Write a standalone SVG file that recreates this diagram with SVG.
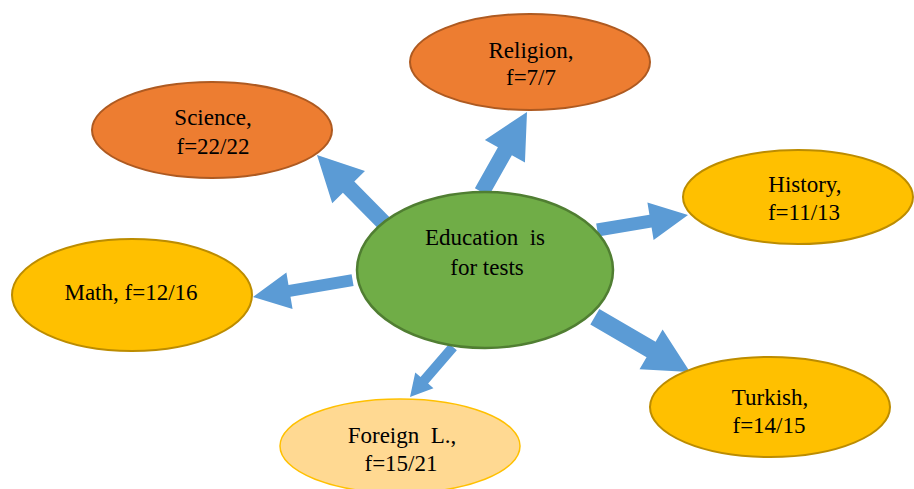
<svg xmlns="http://www.w3.org/2000/svg" width="914" height="489" viewBox="0 0 914 489">
<style>
text{font-family:"Liberation Serif","Times New Roman",serif;font-size:23px;fill:#000;text-anchor:middle;white-space:pre}
.or{fill:#ED7D31;stroke:#AE5A21;stroke-width:2}
.gd{fill:#FFC000;stroke:#BC8C00;stroke-width:2}
.lt{fill:#FFD992;stroke:#FFC000;stroke-width:1.5}
.gr{fill:#70AD47;stroke:#507E32;stroke-width:2.5}
.ar{fill:#5B9BD5}
</style>
<rect width="914" height="489" fill="#fff"/>
<g id="connectors">
<polygon class="ar" transform="translate(317,155) rotate(-134.6)" points="0,0 -45,-23 -45,-8 -97,-8 -97,8 -45,8 -45,23"/>
<polygon class="ar" transform="translate(527,112) rotate(-60.6)" points="0,0 -45,-23 -45,-8 -92,-8 -92,8 -45,8 -45,23"/>
<polygon class="ar" transform="translate(253,297) rotate(170.4)" points="0,0 -37,-18.5 -37,-6 -101,-6 -101,6 -37,6 -37,18.5"/>
<polygon class="ar" transform="translate(410,397) rotate(130.7)" points="0,0 -22,-12 -22,-5 -66,-5 -66,5 -22,5 -22,12"/>
<polygon class="ar" transform="translate(688,215) rotate(-9.4)" points="0,0 -38,-19 -38,-6.5 -92,-6.5 -92,6.5 -38,6.5 -38,19"/>
<polygon class="ar" transform="translate(690,372) rotate(30.1)" points="0,0 -45,-23 -45,-9 -110,-9 -110,9 -45,9 -45,23"/>
</g>
<g id="center">
<ellipse class="gr" cx="485" cy="270" rx="128" ry="78"/>
<text x="485" y="245" xml:space="preserve">Education  is</text>
<text x="487" y="275">for tests</text>
</g>
<g id="science">
<ellipse class="or" cx="212" cy="130" rx="120" ry="48"/>
<text x="213" y="125">Science,</text>
<text x="213" y="154">f=22/22</text>
</g>
<g id="religion">
<ellipse class="or" cx="530" cy="62" rx="120" ry="48"/>
<text x="531" y="58">Religion,</text>
<text x="531" y="85">f=7/7</text>
</g>
<g id="history">
<ellipse class="gd" cx="798" cy="197" rx="115" ry="47"/>
<text x="805" y="192">History,</text>
<text x="804" y="220">f=11/13</text>
</g>
<g id="math">
<ellipse class="gd" cx="132" cy="295" rx="120" ry="56"/>
<text x="131" y="300">Math, f=12/16</text>
</g>
<g id="turkish">
<ellipse class="gd" cx="770" cy="407" rx="120" ry="50"/>
<text x="770" y="405">Turkish,</text>
<text x="769" y="433">f=14/15</text>
</g>
<g id="foreign">
<ellipse class="lt" cx="400" cy="446" rx="120" ry="47"/>
<text x="402" y="443" xml:space="preserve">Foreign  L.,</text>
<text x="401" y="471">f=15/21</text>
</g>
</svg>
